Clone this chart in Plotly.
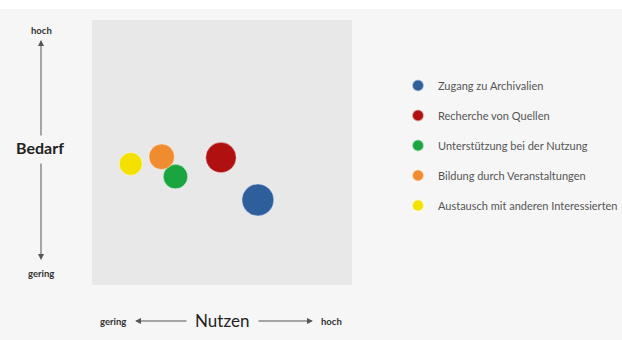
import plotly.graph_objects as go

# Data
categories = ["Zugang zu Archivalien", "Recherche von Quellen", "Unterstützung bei der Nutzung",
              "Bildung durch Veranstaltungen", "Austausch mit anderen Interessierten"]
nutzen = [6.38, 4.96, 3.21, 2.68, 1.49]   # x (0-10)
bedarf = [3.21, 4.81, 4.09, 4.84, 4.57]   # y (0-10)
sizes = [32, 30.5, 24.5, 25.5, 23]
colors = ["#2e5e9c", "#b01010", "#1aa540", "#f08c30", "#f3e200"]

axis_low = "gering"
axis_high = "hoch"
x_title = "Nutzen"
y_title = "Bedarf"

FONT = "Lato, 'Open Sans', sans-serif"

fig = go.Figure()
for i, name in enumerate(categories):
    fig.add_trace(go.Scatter(
        x=[nutzen[i]], y=[bedarf[i]], mode="markers", name=name,
        legendgroup=f"g{i}",
        marker=dict(size=sizes[i], color=colors[i], line=dict(width=0.8, color="rgba(255,255,255,0.6)")),
        hoverinfo="name",
    ))

L, R, T, B = 92, 352, 20, 285
def px2x(px):
    return (px - L) / (R - L)
def py2y(py):
    return (B - py) / (B - T)

annotations = []
txtcol = "#333333"
def label(px, py, text, size, color=txtcol):
    return dict(x=px2x(px), y=py2y(py), xref="paper", yref="paper", text=text, showarrow=False,
                xanchor="center", yanchor="middle",
                font=dict(size=size, color=color, family=FONT))
annotations.append(label(41, 30, f"<b>{axis_high}</b>", 9.5))
annotations.append(label(41, 273, f"<b>{axis_low}</b>", 9.5))
annotations.append(label(40, 147, f"<b>{y_title}</b>", 16, "#222222"))
annotations.append(label(113, 321, f"<b>{axis_low}</b>", 9.5))
annotations.append(label(331, 321, f"<b>{axis_high}</b>", 9.5))
annotations.append(label(222, 320, x_title, 17, "#222222"))

arrowcol = "#555555"
def arrow(hx, hy, ax, ay):
    return dict(x=px2x(hx), y=py2y(hy), xref="paper", yref="paper", ax=ax, ay=ay, text="",
                showarrow=True, arrowhead=2, arrowsize=1.2, arrowwidth=1, arrowcolor=arrowcol)
annotations.append(arrow(41, 40, 0, 97))
annotations.append(arrow(41, 260, 0, -98))
annotations.append(arrow(135, 321, 53, 0))
annotations.append(arrow(313, 321, -56, 0))

shapes = [dict(type="rect", xref="paper", yref="paper", x0=px2x(0), x1=px2x(622),
               y0=py2y(9), y1=py2y(0), fillcolor="white", line=dict(width=0), layer="below")]

fig.update_layout(
    width=622, height=340,
    margin=dict(l=L, r=622 - R, t=T, b=340 - B, autoexpand=False),
    paper_bgcolor="#f6f6f6",
    plot_bgcolor="#e8e8e8",
    xaxis=dict(range=[0, 10], showgrid=False, zeroline=False, showticklabels=False, fixedrange=True),
    yaxis=dict(range=[0, 10], showgrid=False, zeroline=False, showticklabels=False, fixedrange=True),
    showlegend=True,
    legend=dict(x=(398 - L) / (R - L), xanchor="left", y=(B - 71) / (B - T), yanchor="top",
                bgcolor="rgba(0,0,0,0)", itemsizing="constant", traceorder="grouped",
                tracegroupgap=11, font=dict(size=11, color="#555555", family=FONT)),
    annotations=annotations,
    shapes=shapes,
    font=dict(family=FONT),
)

fig.write_html("out.html")
